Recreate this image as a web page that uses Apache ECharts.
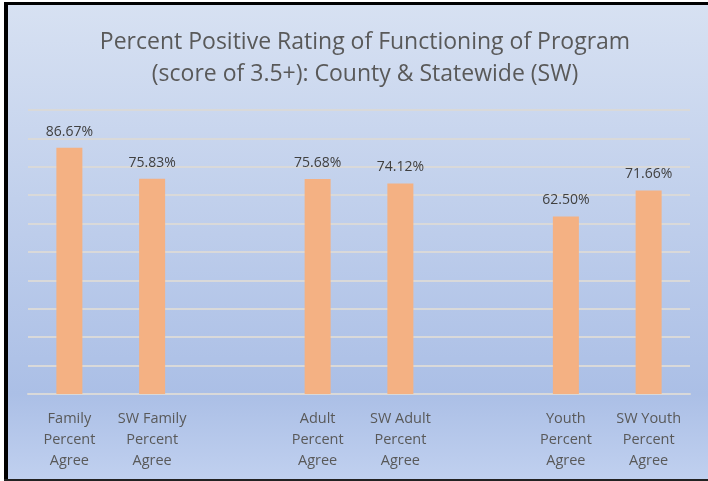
<!DOCTYPE html>
<html>
<head>
<meta charset="utf-8">
<script src="https://cdn.jsdelivr.net/npm/echarts@6/dist/echarts.min.js"></script>
<style>
  html, body { margin: 0; padding: 0; background: #fff; }
  #chart { width: 708px; height: 481px; }
</style>
</head>
<body>
<div id="chart"></div>
<script>
// 类目(空串 = 分组间隔)
var categories = [
  'Family\nPercent\nAgree', 'SW Family\nPercent\nAgree', '',
  'Adult\nPercent\nAgree', 'SW Adult\nPercent\nAgree', '',
  'Youth\nPercent\nAgree', 'SW Youth\nPercent\nAgree'
];
var percentAgree = [86.67, 75.83, null, 75.68, 74.12, null, 62.50, 71.66];
var titleLines = [
  'Percent Positive Rating of Functioning of Program',
  '(score of 3.5+): County & Statewide (SW)'
];

var FONT = '"Open Sans", "Noto Sans", sans-serif';
var chart = echarts.init(document.getElementById('chart'));

chart.setOption({
  backgroundColor: '#fff',
  animation: false,
  graphic: [
    {
      type: 'rect', z: -10,
      shape: { x: 8, y: 5, width: 700, height: 474 },
      style: {
        fill: new echarts.graphic.LinearGradient(0, 0, 0, 1, [
          { offset: 0, color: '#d7e1f2' },
          { offset: 0.82, color: '#abbfe6' },
          { offset: 1, color: '#c0d0ef' }
        ])
      }
    },
    // 黑色外框(左/上/下)
    { type: 'rect', z: 10, shape: { x: 4, y: 2, width: 4, height: 477 }, style: { fill: '#000' } },
    { type: 'rect', z: 10, shape: { x: 4, y: 2, width: 704, height: 3 }, style: { fill: '#000' } },
    { type: 'rect', z: 10, shape: { x: 4, y: 479, width: 704, height: 2 }, style: { fill: '#222' } }
  ],
  title: {
    text: titleLines.join('\n'),
    left: 360, top: 21, textAlign: 'center',
    textStyle: {
      fontFamily: FONT, fontSize: 23, fontWeight: 'normal',
      color: '#595959', lineHeight: 32
    }
  },
  grid: { left: 28, right: 18, top: 110, bottom: 87 },
  xAxis: {
    type: 'category',
    data: categories,
    axisLine: { show: true, lineStyle: { color: '#d9d9d9', width: 2 } },
    axisTick: { show: false },
    axisLabel: {
      interval: 0, margin: 14,
      fontFamily: FONT, fontSize: 14.5, color: '#595959', lineHeight: 21
    }
  },
  yAxis: {
    type: 'value', min: 0, max: 100, interval: 10,
    axisLabel: { show: false },
    axisLine: { show: false },
    axisTick: { show: false },
    splitLine: { lineStyle: { color: '#d9d9d9', width: 2 } }
  },
  series: [{
    type: 'bar',
    data: percentAgree,
    barWidth: 26,
    itemStyle: { color: '#f4b183' },
    label: {
      show: true, position: 'top', distance: 9,
      fontFamily: FONT, fontSize: 14, color: '#404040',
      formatter: function (p) { return p.value.toFixed(2) + '%'; }
    }
  }]
});
</script>
</body>
</html>
